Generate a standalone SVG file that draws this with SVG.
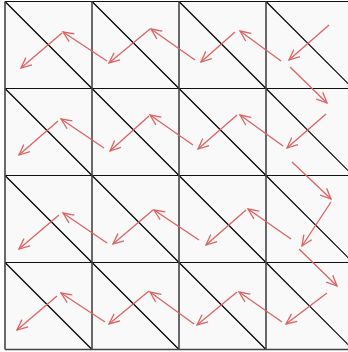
<svg xmlns="http://www.w3.org/2000/svg" width="348" height="352" viewBox="0 0 348 352">
<style>
.cell rect{fill:#f9f9f9;stroke:none}
.grid{stroke:#111;stroke-width:1;fill:none}
.diag{stroke:#000;stroke-width:1.2;fill:none}
.arr{stroke:#dd6262;stroke-width:1.3;fill:none;marker-end:url(#ah)}
</style>
<defs>
<marker id="ah" markerUnits="userSpaceOnUse" markerWidth="14" markerHeight="12" refX="11" refY="5" orient="auto" viewBox="0 0 14 10">
<path d="M0.5,0.3 L11,5 L0.5,9.7" fill="none" stroke="#dd6262" stroke-width="1.3"/>
</marker>
</defs>
<rect width="348" height="352" fill="#ffffff"/>
<g id="cells">
<g id="c00" class="cell"><rect x="5" y="1.5" width="87" height="87"/><line class="diag" x1="5" y1="1.5" x2="92" y2="88.5"/></g>
<g id="c01" class="cell"><rect x="92" y="1.5" width="87" height="87"/><line class="diag" x1="92" y1="1.5" x2="179" y2="88.5"/></g>
<g id="c02" class="cell"><rect x="179" y="1.5" width="87" height="87"/><line class="diag" x1="179" y1="1.5" x2="266" y2="88.5"/></g>
<g id="c03" class="cell"><rect x="266" y="1.5" width="87" height="87"/><line class="diag" x1="266" y1="1.5" x2="353" y2="88.5"/></g>
<g id="c10" class="cell"><rect x="5" y="88.5" width="87" height="87"/><line class="diag" x1="5" y1="88.5" x2="92" y2="175.5"/></g>
<g id="c11" class="cell"><rect x="92" y="88.5" width="87" height="87"/><line class="diag" x1="92" y1="88.5" x2="179" y2="175.5"/></g>
<g id="c12" class="cell"><rect x="179" y="88.5" width="87" height="87"/><line class="diag" x1="179" y1="88.5" x2="266" y2="175.5"/></g>
<g id="c13" class="cell"><rect x="266" y="88.5" width="87" height="87"/><line class="diag" x1="266" y1="88.5" x2="353" y2="175.5"/></g>
<g id="c20" class="cell"><rect x="5" y="175.5" width="87" height="87"/><line class="diag" x1="5" y1="175.5" x2="92" y2="262.5"/></g>
<g id="c21" class="cell"><rect x="92" y="175.5" width="87" height="87"/><line class="diag" x1="92" y1="175.5" x2="179" y2="262.5"/></g>
<g id="c22" class="cell"><rect x="179" y="175.5" width="87" height="87"/><line class="diag" x1="179" y1="175.5" x2="266" y2="262.5"/></g>
<g id="c23" class="cell"><rect x="266" y="175.5" width="87" height="87"/><line class="diag" x1="266" y1="175.5" x2="353" y2="262.5"/></g>
<g id="c30" class="cell"><rect x="5" y="262.5" width="87" height="87"/><line class="diag" x1="5" y1="262.5" x2="92" y2="349.5"/></g>
<g id="c31" class="cell"><rect x="92" y="262.5" width="87" height="87"/><line class="diag" x1="92" y1="262.5" x2="179" y2="349.5"/></g>
<g id="c32" class="cell"><rect x="179" y="262.5" width="87" height="87"/><line class="diag" x1="179" y1="262.5" x2="266" y2="349.5"/></g>
<g id="c33" class="cell"><rect x="266" y="262.5" width="87" height="87"/><line class="diag" x1="266" y1="262.5" x2="353" y2="349.5"/></g>
</g>
<g id="grid" class="grid">
<line x1="5" y1="1.5" x2="353" y2="1.5"/>
<line x1="5" y1="88.5" x2="353" y2="88.5"/>
<line x1="5" y1="175.5" x2="353" y2="175.5"/>
<line x1="5" y1="262.5" x2="353" y2="262.5"/>
<line x1="5" y1="349.5" x2="353" y2="349.5" stroke="#444" stroke-width="1.6"/>
<line x1="5" y1="1.5" x2="5" y2="349.5" stroke="#444" stroke-width="1.6"/>
<line x1="92" y1="1.5" x2="92" y2="349.5" stroke="#444" stroke-width="1.6"/>
<line x1="179" y1="1.5" x2="179" y2="349.5" stroke="#444" stroke-width="1.6"/>
<line x1="266" y1="1.5" x2="266" y2="349.5" stroke="#444" stroke-width="1.6"/>
</g>
<g id="connectors">
<line class="arr" x1="329" y1="25" x2="289" y2="60"/>
<line class="arr" x1="281" y1="61" x2="240" y2="31"/>
<line class="arr" x1="235" y1="32" x2="201" y2="62"/>
<line class="arr" x1="195" y1="60" x2="151" y2="29"/>
<line class="arr" x1="150" y1="29" x2="109" y2="63"/>
<line class="arr" x1="107" y1="61" x2="63" y2="32"/>
<line class="arr" x1="62" y1="33" x2="21" y2="68"/>
<line class="arr" x1="290" y1="67" x2="327" y2="103"/>
<line class="arr" x1="326" y1="114" x2="287" y2="148"/>
<line class="arr" x1="283" y1="146" x2="240" y2="115"/>
<line class="arr" x1="237" y1="115" x2="198" y2="149"/>
<line class="arr" x1="193" y1="145" x2="150" y2="115"/>
<line class="arr" x1="149" y1="116" x2="110" y2="151"/>
<line class="arr" x1="104" y1="148" x2="61" y2="119"/>
<line class="arr" x1="58" y1="121" x2="19" y2="155"/>
<line class="arr" x1="292" y1="162" x2="331" y2="199"/>
<line class="arr" x1="331" y1="202" x2="302" y2="246"/>
<line class="arr" x1="299" y1="249" x2="337" y2="286"/>
<line class="arr" x1="291" y1="239" x2="248" y2="209"/>
<line class="arr" x1="246" y1="210" x2="206" y2="245"/>
<line class="arr" x1="199" y1="240" x2="154" y2="210"/>
<line class="arr" x1="153" y1="210" x2="113" y2="244"/>
<line class="arr" x1="107" y1="243" x2="63" y2="213"/>
<line class="arr" x1="59" y1="215" x2="19" y2="249"/>
<line class="arr" x1="327" y1="293" x2="286" y2="324"/>
<line class="arr" x1="282" y1="322" x2="239" y2="292"/>
<line class="arr" x1="237" y1="292" x2="197" y2="325"/>
<line class="arr" x1="194" y1="324" x2="150" y2="292"/>
<line class="arr" x1="149" y1="291" x2="109" y2="324"/>
<line class="arr" x1="105" y1="322" x2="61" y2="293"/>
<line class="arr" x1="57" y1="296" x2="17" y2="330"/>
</g>
</svg>
